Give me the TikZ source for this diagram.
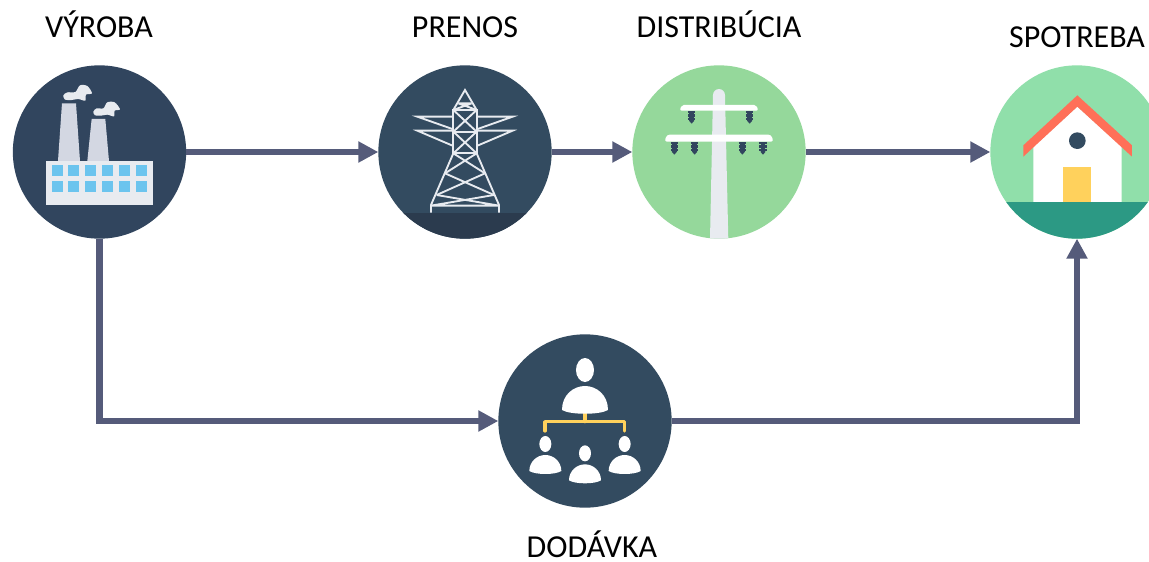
\documentclass[tikz,border=0pt]{standalone}
\usepackage{xcolor}
\usepackage{fontspec}
\setmainfont{Carlito}
\usetikzlibrary{arrows.meta}
\definecolor{navy}{HTML}{31455E}
\definecolor{slate}{HTML}{334B60}
\definecolor{dusk}{HTML}{2B3B4E}
\definecolor{leaf}{HTML}{95D89B}
\definecolor{mint}{HTML}{90DFAA}
\definecolor{lawn}{HTML}{2C9984}
\definecolor{tile}{HTML}{FF7058}
\definecolor{sun}{HTML}{FFD15C}
\definecolor{steel}{HTML}{E8EBF0}
\definecolor{stack}{HTML}{D3D7E2}
\definecolor{pane}{HTML}{6BC4EE}
\definecolor{wire}{HTML}{555B7A}

\begin{document}
\begin{tikzpicture}[
		x=0.75pt, y=-0.75pt,
		bubble/.style = {shape=circle, minimum size=130pt, inner sep=0pt, outer sep=0pt},
		caption/.style = {font=\fontsize{24}{28}\selectfont, inner sep=0pt, anchor=base},
		flow/.style = {draw=wire, line width=5pt, -{Triangle[length=15pt,width=15pt]}},
		truss/.style = {draw=steel, line width=1.4pt},
		icon/.style = {shift={(#1)}, scale=0.3333}]
		\clip (0,0) rectangle (1149,561);
		\fill[white] (0,0) rectangle (1149,561);
		% circles
		\node[bubble, fill=navy] (vyroba) at (99.5,152) {};
		\node[bubble, fill=slate] (prenos) at (465,152) {};
		\node[bubble, fill=leaf] (distribucia) at (719,152) {};
		\node[bubble, fill=mint] (spotreba) at (1077,152) {};
		\node[bubble, fill=slate] (dodavka) at (585,421) {};
		% labels
		\node[caption] (vyrobaText) at (99,37) {VÝROBA};
		\node[caption] (prenosText) at (465,37) {PRENOS};
		\node[caption] (distribuciaText) at (719,37) {DISTRIBÚCIA};
		\node[caption] (spotrebaText) at (1077,47) {SPOTREBA};
		\node[caption] (dodavkaText) at (592,557) {DODÁVKA};
		% connectors
		\draw[flow] (vyroba) -- (prenos);
		\draw[flow] (prenos) -- (distribucia);
		\draw[flow] (distribucia) -- (spotreba);
		\draw[flow] (vyroba.south) |- (dodavka.west);
		\draw[flow] (dodavka.east) -| (spotreba.south);
		% factory
		\begin{scope}[icon={0,60}]
			\fill[stack] (174,303) -- (186,130) -- (228,130) -- (240,303) -- cycle;
			\fill[stack] (262,303) -- (275,177) -- (316,177) -- (327,303) -- cycle;
			\fill[steel] (138,303) rectangle (459,435);
			\foreach \wx in {156,204,255,306,357,408}
			\foreach \wy in {315,363}
			{
				\fill[pane] (\wx,\wy) rectangle ++(33,33);
			}
			\fill[steel] plot[smooth cycle] coordinates {(190,106) (202,97) (226,96) (240,76) (262,78) (276,100) (258,104) (256,122) (235,117) (215,120) (195,119)};
			\fill[steel] plot[smooth cycle] coordinates {(280,155) (290,145) (310,145) (322,127) (344,127) (360,148) (344,152) (342,169) (322,164) (303,167) (285,166)};
		\end{scope}
		% tower
		\begin{scope}
			\clip (prenos.center) circle [radius=86.67];
			\fill[dusk] (370,212.7) rectangle (560,245);
		\end{scope}
		\begin{scope}[icon={370,60}]
			\draw[truss] (250,150) -- (285,90) -- (320,150);
			\draw[truss] (250,150) rectangle (320,280);
			\draw[truss] (250,150) -- (320,150) (250,215) -- (320,215);
			\draw[truss] (265,130) -- (305,130) (265,130) -- (320,150) (305,130) -- (250,150);
			\draw[truss] (250,150) -- (320,215) (320,150) -- (250,215);
			\draw[truss] (250,215) -- (320,280) (320,215) -- (250,280);
			\draw[truss] (250,170) -- (142,170) -- (250,208);
			\draw[truss] (250,212) -- (142,212) -- (250,258);
			\draw[truss] (320,170) -- (428,170) -- (320,208);
			\draw[truss] (320,212) -- (428,212) -- (320,258);
			\draw[truss] (183,458) -- (183,435) -- (250,280);
			\draw[truss] (387,458) -- (387,435) -- (320,280);
			\draw[truss] (250,280) -- (345,340) (225,340) -- (320,280);
			\draw[truss] (225,340) -- (372,405) (200,405) -- (345,340);
			\draw[truss] (200,405) -- (387,437) -- (183,437) -- (372,405);
		\end{scope}
		% pole
		\begin{scope}
			\clip (distribucia.center) circle [radius=86.67];
			\begin{scope}[icon={625,60}]
				\fill[steel] (264,105) arc[start angle=180, end angle=0, x radius=18, y radius=-18] -- (310,540) -- (255,540) -- cycle;
				\fill[white, rounded corners=1.5pt] (164,152) -- (170,135) -- (394,135) -- (400,152) -- cycle;
				\fill[white, rounded corners=2pt] (118,245) -- (126,224) -- (438,224) -- (446,245) -- cycle;
				\foreach \ix/\iy in {200/152, 374/152, 148/245, 209/245, 352/245, 414/245}
				{
					\fill[navy] (\ix-11,\iy) rectangle ++(22,8);
					\fill[navy] (\ix-11,\iy+11) rectangle ++(22,8);
					\fill[navy] (\ix-11,\iy+22) rectangle ++(22,7);
					\fill[navy] (\ix-7,\iy) rectangle (\ix+7,\iy+30);
					\fill[navy] (\ix-8,\iy+30) -- (\ix+8,\iy+30) -- (\ix,\iy+39) -- cycle;
				}
			\end{scope}
		\end{scope}
		% house
		\begin{scope}
			\clip (spotreba.center) circle [radius=86.67];
			\begin{scope}[icon={980,60}]
				\fill[white] (160,430) -- (160,260) -- (292,140) -- (425,260) -- (425,430) -- cycle;
				\fill[tile] (292,106) -- (456,256) -- (456,290) -- (292,140) -- (130,290) -- (130,256) -- cycle;
				\fill[sun] (250,320) rectangle (334,430);
				\fill[slate] (292,242) circle [radius=25];
				\fill[lawn] (0,426) rectangle (520,560);
			\end{scope}
		\end{scope}
		% people
		\begin{scope}[icon={490,330}]
			\draw[sun, line width=2.4pt, line cap=round, line join=round] (285,250) -- (285,275) (165,303) -- (165,275) -- (404,275) -- (404,303);
			\fill[white] (285,120) ellipse [x radius=27, y radius=36];
			\fill[white] (216,240) .. controls (216,195) and (250,168) .. (285,168) .. controls (320,168) and (354,195) .. (354,240) .. controls (330,255) and (240,255) .. (216,240) -- cycle;
			\foreach \sx/\sy in {166/0, 285/28, 404/0}
			{
				\fill[white] (\sx,342+\sy) ellipse [x radius=18, y radius=24];
				\fill[white] (\sx-48,423+\sy) .. controls (\sx-48,395+\sy) and (\sx-25,375+\sy) .. (\sx,375+\sy) .. controls (\sx+25,375+\sy) and (\sx+48,395+\sy) .. (\sx+48,423+\sy) .. controls (\sx+30,435+\sy) and (\sx-30,435+\sy) .. (\sx-48,423+\sy) -- cycle;
			}
		\end{scope}
		;
		\end{tikzpicture}
\end{document}
